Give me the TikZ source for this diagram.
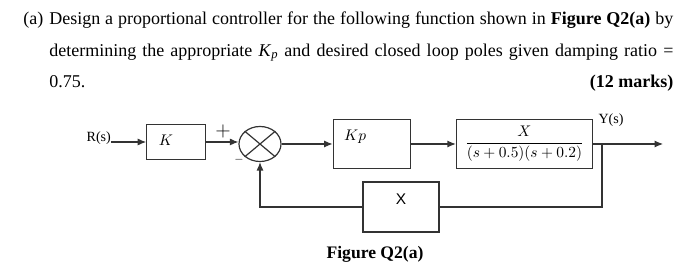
\documentclass[tikz,border=0pt]{standalone}
\usepackage{amsmath}
\usepackage{fontspec}
\setmainfont{Liberation Serif}
\newfontfamily\arialfont{Liberation Sans}
\usetikzlibrary{shapes.geometric, arrows.meta, positioning, calc}

\begin{document}
\begin{tikzpicture}[%
  x=0.025cm, y=-0.025cm,%
  question/.style={text width=15.6cm, align=justify, inner sep=0pt, font=\fontsize{12.8}{22.4}\selectfont},%
  block/.style={rectangle, draw=black!80, line width=0.85pt, inner sep=0pt, font=\fontsize{11}{13}\selectfont},%
  junction/.style={ellipse, draw=black!80, line width=0.85pt, minimum width=1.05cm, minimum height=0.875cm, inner sep=0pt},%
  signal/.style={font=\fontsize{10}{12}\selectfont, inner sep=0pt},%
  arrow/.style={-{Latex[length=6pt, width=5pt]}, line width=0.85pt, draw=black!80},%
  wire/.style={line width=0.85pt, draw=black!80}%
]
  \path[use as bounding box, fill=white] (0,0) rectangle (700,280);
  % question text
  \node[question, anchor=north west] (task) at (49,11.6) {\noindent\llap{(a)\hspace{0.15cm}}Design a proportional controller for the following function shown in \textbf{Figure Q2(a)} by\linebreak determining the appropriate \textit{K}\textsubscript{\textit{p}} and desired closed loop poles given damping ratio =\linebreak 0.75.\hfill\textbf{(12 marks)}};
  % forward path
  \node[junction] (sum) at (260,144) {};
  \node[block, inner xsep=0.3cm, text width=0.875cm, align=left, minimum height=0.875cm, text height=0.3cm, text depth=0.11cm, left=0.8cm of sum, yshift=0.05cm] (K) {$K$};
  \node[signal, left=0.875cm of K, anchor=base east] (rs) {R(s)};
  \node[block, inner xsep=0.275cm, text width=1.375cm, align=left, minimum height=1.225cm, text height=0.3cm, text depth=0.46cm, right=1.275cm of sum] (Kp) {$Kp$};
  \node[block, minimum width=3.4cm, minimum height=1.225cm, right=1.125cm of Kp] (G) {\fontsize{11.2}{13}\selectfont$\dfrac{X}{(s+0.5)(s+0.2)}$};
  \coordinate[right=1.75cm of G] (out);
  \coordinate (branch) at ($(G.east)+(9,0)$);
  % feedback path
  \node[block, minimum width=1.9cm, minimum height=1.25cm, text height=0.3cm, text depth=0.4cm, font=\arialfont\fontsize{11}{13}\selectfont] (H) at (401,207) {X};
  % labels
  \node[signal, anchor=base] (ys) at (611,124) {Y(s)};
  \node[font=\fontsize{13.8}{15}\selectfont, inner sep=0pt] (plus) at (223,131) {$+$};
  \node[font=\fontsize{8.5}{10}\selectfont, inner sep=0pt] (minus) at (239,160) {$-$};
  \node[font=\bfseries\fontsize{12.5}{15}\selectfont, inner sep=0pt, anchor=base] (caption) at (375,259) {Figure Q2(a)};
  % connectors
  \draw[arrow] (rs.base east) -- (K.west);
  \draw[arrow] (K.east) -- (K.east -| sum.west);
  \draw[wire] (sum.north west) -- (sum.south east) (sum.south west) -- (sum.north east);
  \draw[arrow] (sum) -- (Kp);
  \draw[arrow] (Kp) -- (G);
  \draw[arrow] (G) -- (out);
  \draw[wire] (branch) |- (H.east);
  \draw[arrow] (H.west) -| (sum.south);
\end{tikzpicture}
\end{document}
